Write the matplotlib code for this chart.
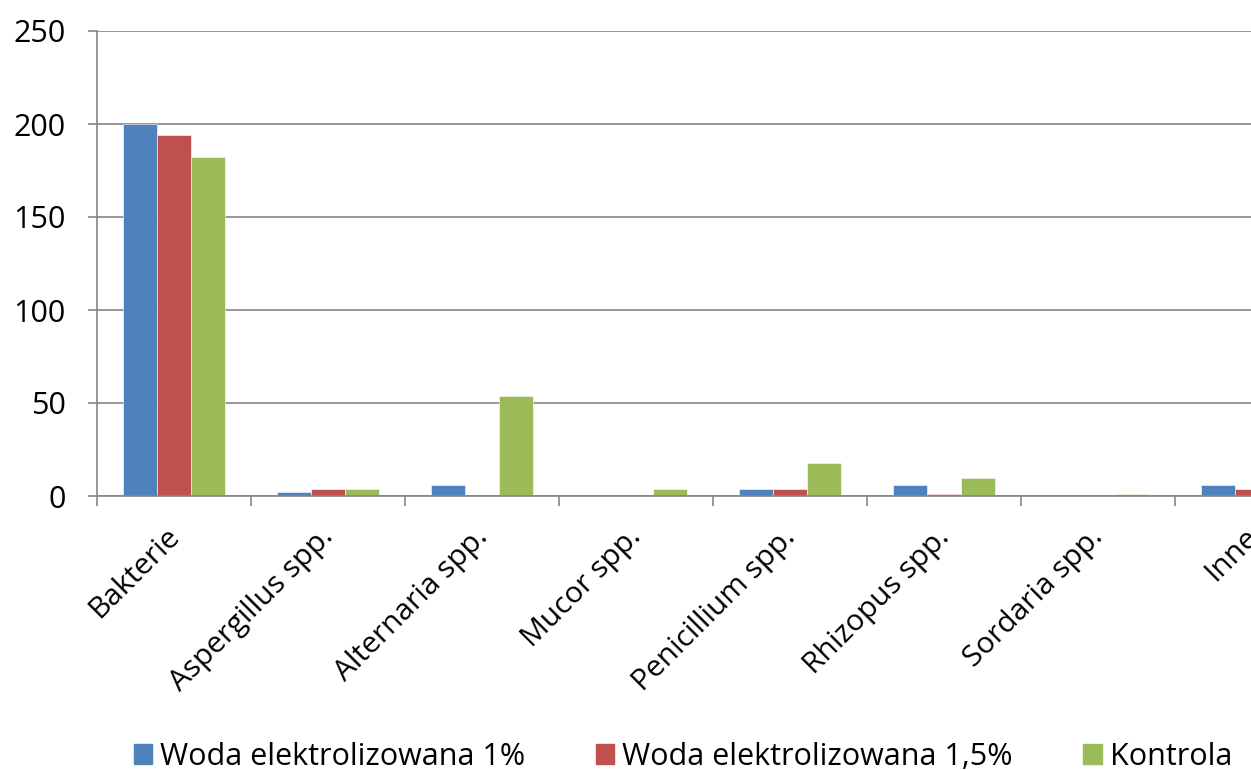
import matplotlib.pyplot as plt
import numpy as np
from matplotlib.patches import Patch
from matplotlib.transforms import ScaledTranslation

categories = ["Bakterie", "Aspergillus spp.", "Alternaria spp.", "Mucor spp.",
              "Penicillium spp.", "Rhizopus spp.", "Sordaria spp.", "Inne"]
series_names = ["Woda elektrolizowana 1%", "Woda elektrolizowana 1,5%", "Kontrola"]
woda_1 = [200, 2, 6, 0, 4, 6, 0, 6]
woda_15 = [194, 4, 0, 0, 4, 1, 0, 4]
kontrola = [182, 4, 54, 4, 17.5, 9.5, 1, 2]
yticks = [0, 50, 100, 150, 200, 250]

colors = ["#4F81BD", "#C0504D", "#9BBB59"]
grid_color = "#868686"

plt.rcParams['font.family'] = ['Open Sans', 'DejaVu Sans']

fig = plt.figure(figsize=(12.51, 7.70), dpi=100)
ax = fig.add_axes([97 / 1251, 274 / 770, 1232 / 1251, 465 / 770])

x = np.arange(len(categories))
w = 0.22
for i, (vals, c) in enumerate(zip([woda_1, woda_15, kontrola], colors)):
    ax.bar(x + (i - 1) * w, vals, width=w, color=c, edgecolor="white",
           linewidth=0.4, zorder=3)

ax.set_xlim(-0.5, len(categories) - 0.5)
ax.set_ylim(0, 250)
ax.set_yticks(yticks)
ax.set_yticklabels([str(t) for t in yticks], fontsize=22)
ax.yaxis.grid(True, color=grid_color, linewidth=1.2, zorder=0)
ax.tick_params(axis='y', length=6.5, width=1.2, color=grid_color, pad=16,
               labelcolor="#000000")

# category boundary ticks
ax.set_xticks(np.arange(len(categories) + 1) - 0.5)
ax.set_xticklabels([])
ax.tick_params(axis='x', length=7, width=1.2, color=grid_color, direction='out')
ax.set_xticks(x, minor=True)
ax.set_xticklabels(categories, minor=True, rotation=45, ha='right',
                   rotation_mode='anchor', fontsize=21.5)
ax.tick_params(axis='x', which='minor', length=0, pad=14)
shift = ScaledTranslation(-9 / 100, -7 / 100, fig.dpi_scale_trans)
for lbl in ax.get_xticklabels(minor=True):
    lbl.set_transform(lbl.get_transform() + shift)

for s in ["top", "right"]:
    ax.spines[s].set_visible(False)
for s in ["left", "bottom"]:
    ax.spines[s].set_color(grid_color)
    ax.spines[s].set_linewidth(1.2)
ax.spines["bottom"].set_zorder(4)

handles = [Patch(facecolor=c, edgecolor=c) for c in colors]
fig.legend(handles, series_names, loc='center', bbox_to_anchor=(0.546, 0.017),
           ncol=3, frameon=False, fontsize=22, handlelength=0.6, handleheight=0.6,
           handletextpad=0.27, columnspacing=2.3, borderpad=0)

fig.savefig("out.png", dpi=100)
